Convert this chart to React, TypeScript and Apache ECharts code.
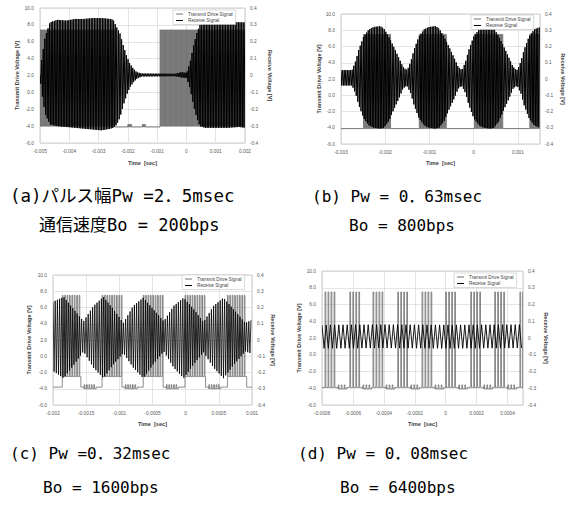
import React, { useEffect, useRef } from 'react';
import * as echarts from 'echarts';

// ---------- axis ranges [min, max, interval] ----------
const leftRange = [-6, 10, 2];
const rightRange = [-0.4, 0.4, 0.1];
const timeRangeA = [-0.005, 0.002, 0.001];
const timeRangeB = [-0.003, 0.0015, 0.001];
const timeRangeC = [-0.002, 0.001, 0.0005];
const timeRangeD = [-0.0008, 0.0005, 0.0002];

// ---------- texts ----------
const seriesNames = ['Transmit Drive Signal', 'Receive Signal'];
const leftAxisName = 'Transmit Drive Voltage [V]';
const rightAxisName = 'Receive Voltage [V]';
const timeAxisName = 'Time  [sec]';
const captionsLine1 = ['(a)パルス幅Pw =2．5msec', '(b) Pw = 0．63msec', '(c) Pw =0．32msec', '(d) Pw = 0．08msec'];
const captionsLine2 = ['通信速度Bo = 200bps', 'Bo = 800bps', 'Bo = 1600bps', 'Bo = 6400bps'];

// ---------- transmit drive signal: segments [tStart, tEnd, low V, high V] ----------
const txA = [
  [-0.005, -0.00244, -4.0, 7.4],
  [-0.00244, -0.002, -4.1, -4.1],
  [-0.002, -0.00188, -4.1, -3.8],
  [-0.00188, -0.0015, -4.1, -4.1],
  [-0.0015, -0.0014, -4.1, -3.8],
  [-0.0014, -0.0009, -4.1, -4.1],
  [-0.0009, 0.002, -4.0, 7.4],
];
const txB = [
  [-0.003, -0.00249, -4.1, -4.1],
  [-0.00249, -0.00187, -4.1, 7.5],
  [-0.00187, -0.00123, -4.1, -4.1],
  [-0.00123, -0.00061, -4.1, 7.5],
  [-0.00061, 0.00002, -4.1, -4.1],
  [0.00002, 0.00066, -4.1, 7.5],
  [0.00066, 0.00127, -4.1, -4.1],
  [0.00127, 0.0015, -4.1, 7.5],
];
const txC = [
  [-0.002, -0.00186, -3.8, -3.8],
  [-0.00186, -0.00158, -2.5, 7.5],
  [-0.00158, -0.00153, -3.8, -3.8],
  [-0.00153, -0.00135, -4.0, -3.5],
  [-0.00135, -0.00126, -3.8, -3.8],
  [-0.00126, -0.00096, -2.5, 7.5],
  [-0.00096, -0.00091, -3.8, -3.8],
  [-0.00091, -0.00073, -4.0, -3.5],
  [-0.00073, -0.00064, -3.8, -3.8],
  [-0.00064, -0.00034, -2.5, 7.5],
  [-0.00034, -0.00029, -3.8, -3.8],
  [-0.00029, -0.00011, -4.0, -3.5],
  [-0.00011, -0.00001, -3.8, -3.8],
  [-0.00001, 0.0003, -2.5, 7.5],
  [0.0003, 0.00035, -3.8, -3.8],
  [0.00035, 0.00053, -4.0, -3.5],
  [0.00053, 0.00063, -3.8, -3.8],
  [0.00063, 0.00092, -2.5, 7.5],
  [0.00092, 0.001, -3.8, -3.8],
];
const txD = [
  [-0.0008, -0.00078, -3.9, -3.9],
  [-0.00078, -0.00071, -3.9, 7.5],
  [-0.00071, -0.000695, -3.9, -3.9],
  [-0.000695, -0.00064, -4.1, -3.6],
  [-0.00064, -0.00062, -3.9, -3.9],
  [-0.00062, -0.00055, -3.9, 7.5],
  [-0.00055, -0.000535, -3.9, -3.9],
  [-0.000535, -0.00048, -4.1, -3.6],
  [-0.00048, -0.00047, -3.9, -3.9],
  [-0.00047, -0.0004, -3.9, 7.5],
  [-0.0004, -0.000385, -3.9, -3.9],
  [-0.000385, -0.00033, -4.1, -3.6],
  [-0.00033, -0.00031, -3.9, -3.9],
  [-0.00031, -0.00024, -3.9, 7.5],
  [-0.00024, -0.000225, -3.9, -3.9],
  [-0.000225, -0.00017, -4.1, -3.6],
  [-0.00017, -0.000153, -3.9, -3.9],
  [-0.000153, -0.000083, -3.9, 7.5],
  [-0.000083, -0.000068, -3.9, -3.9],
  [-0.000068, -0.000013, -4.1, -3.6],
  [-0.000013, 0.0, -3.9, -3.9],
  [0.0, 0.00007, -3.9, 7.5],
  [0.00007, 0.000085, -3.9, -3.9],
  [0.000085, 0.00014, -4.1, -3.6],
  [0.00014, 0.000162, -3.9, -3.9],
  [0.000162, 0.000232, -3.9, 7.5],
  [0.000232, 0.000247, -3.9, -3.9],
  [0.000247, 0.000302, -4.1, -3.6],
  [0.000302, 0.000317, -3.9, -3.9],
  [0.000317, 0.000387, -3.9, 7.5],
  [0.000387, 0.000402, -3.9, -3.9],
  [0.000402, 0.000457, -4.1, -3.6],
  [0.000457, 0.00048, -3.9, -3.9],
  [0.00048, 0.0005, -3.9, 7.5],
];

// ---------- receive signal envelope: [t, lower V, upper V] (right axis) ----------
const rxA = [
  [-0.005, -0.005, 0.005], [-0.00494, -0.1, 0.1], [-0.00483, -0.225, 0.225], [-0.00466, -0.29, 0.315],
  [-0.0044, -0.3, 0.33], [-0.0041, -0.305, 0.325], [-0.0038, -0.31, 0.335], [-0.0035, -0.315, 0.335],
  [-0.0032, -0.32, 0.34], [-0.0029, -0.325, 0.34], [-0.0026, -0.315, 0.335], [-0.0025, -0.31, 0.33],
  [-0.00238, -0.29, 0.285], [-0.00227, -0.25, 0.25], [-0.00215, -0.175, 0.175], [-0.00204, -0.115, 0.115],
  [-0.00193, -0.07, 0.07], [-0.00181, -0.04, 0.04], [-0.0017, -0.02, 0.02], [-0.00153, -0.006, 0.012],
  [-0.0004, -0.004, 0.01], [-0.00016, -0.012, 0.02], [0.00001, -0.015, 0.015], [0.00012, -0.075, 0.075],
  [0.00024, -0.175, 0.175], [0.00035, -0.25, 0.25], [0.00046, -0.3, 0.3], [0.00063, -0.31, 0.32],
  [0.001, -0.31, 0.315], [0.0014, -0.31, 0.32], [0.0018, -0.305, 0.315], [0.002, -0.31, 0.315],
];
const rxB = [
  [-0.003, -0.04, 0.055], [-0.00275, -0.04, 0.055], [-0.00267, -0.09, 0.11], [-0.0026, -0.16, 0.18],
  [-0.00249, -0.24, 0.26], [-0.00237, -0.285, 0.305], [-0.00226, -0.3, 0.32], [-0.00211, -0.305, 0.325],
  [-0.00203, -0.3, 0.31], [-0.00192, -0.26, 0.26], [-0.00181, -0.19, 0.2], [-0.00169, -0.12, 0.13],
  [-0.0016, -0.06, 0.075], [-0.00154, -0.045, 0.06], [-0.0015, -0.045, 0.055], [-0.00142, -0.09, 0.11],
  [-0.00135, -0.16, 0.18], [-0.00124, -0.24, 0.26], [-0.00112, -0.285, 0.305], [-0.00101, -0.3, 0.32],
  [-0.00086, -0.305, 0.325], [-0.00078, -0.3, 0.31], [-0.00067, -0.26, 0.26], [-0.00056, -0.19, 0.2],
  [-0.00044, -0.12, 0.13], [-0.00035, -0.06, 0.075], [-0.00029, -0.045, 0.06], [-0.00026, -0.045, 0.055],
  [-0.00018, -0.09, 0.11], [-0.00011, -0.16, 0.18], [0.0, -0.24, 0.26], [0.00012, -0.285, 0.305],
  [0.00023, -0.3, 0.32], [0.00038, -0.305, 0.325], [0.00046, -0.3, 0.31], [0.00057, -0.26, 0.26],
  [0.00068, -0.19, 0.2], [0.0008, -0.12, 0.13], [0.00089, -0.06, 0.075], [0.00095, -0.045, 0.06],
  [0.00099, -0.045, 0.055], [0.00107, -0.09, 0.11], [0.00114, -0.16, 0.18], [0.00125, -0.24, 0.26],
  [0.00137, -0.285, 0.305], [0.0015, -0.3, 0.32],
];
const rxC = [
  [-0.002, -0.19, 0.235], [-0.00184, -0.235, 0.265], [-0.00169, -0.155, 0.19], [-0.00154, -0.07, 0.115],
  [-0.00139, -0.17, 0.21], [-0.00124, -0.235, 0.265], [-0.00109, -0.15, 0.19], [-0.00094, -0.08, 0.105],
  [-0.00079, -0.17, 0.21], [-0.00064, -0.235, 0.26], [-0.00049, -0.15, 0.19], [-0.00033, -0.07, 0.115],
  [-0.00018, -0.17, 0.21], [-0.00003, -0.235, 0.26], [0.00012, -0.15, 0.19], [0.00027, -0.075, 0.11],
  [0.00042, -0.17, 0.21], [0.00057, -0.235, 0.26], [0.00073, -0.15, 0.185], [0.0009, -0.07, 0.105],
  [0.001, -0.085, 0.125],
];
const rxD = [
  [-0.0008, -0.062, 0.078], [-0.0004, -0.06, 0.08], [0.0, -0.062, 0.078], [0.0005, -0.06, 0.08],
];

// ---------- layout / style ----------
const GRAY = '#707070';
const LABEL_FONT = 'Liberation Sans';
const CAPTION_FONT = "'DejaVu Sans Mono', 'Noto Sans CJK JP', monospace";

const panels = [
  { x: timeRangeA, tx: txA, rx: rxA, grid: { left: 40, top: 8, width: 205, height: 135 },
    legend: { left: 173, top: 10 }, tStyle: [1.1, 0.5, 0.9], rStyle: [0.8, 1], showMax: true,
    gaps: [20, 22, 16.5] },
  { x: timeRangeB, tx: txB, rx: rxB, grid: { left: 341, top: 14, width: 199, height: 130 },
    legend: { left: 471, top: 15 }, tStyle: [1.2, 0.5, 0.9], rStyle: [0.8, 1], showMax: false,
    gaps: [19, 20, 16] },
  { x: timeRangeC, tx: txC, rx: rxC, grid: { left: 53, top: 275, width: 199, height: 130 },
    legend: { left: 182, top: 275 }, tStyle: [2.4, 0.3, 0.8], rStyle: [1.1, 0.8], showMax: true,
    gaps: [21, 18, 16] },
  { x: timeRangeD, tx: txD, rx: rxD, grid: { left: 322, top: 271, width: 201, height: 134 },
    legend: { left: 454, top: 273 }, tStyle: [3.0, 0.25, 0.8], rStyle: [2.1, 0.9], showMax: false,
    gaps: [20, 20, 16] },
];
// caption anchors [x, y, fontSize]
const captionPos = [
  [[10, 196, 17.5], [39, 225, 17]],
  [[312, 196, 16], [349, 225, 16]],
  [[10, 453, 16], [43, 487, 16]],
  [[298, 453, 16], [340, 487, 16]],
];

function txRenderer(segs: number[][], period: number, duty: number, lw: number) {
  return (params: any, api: any) => {
    if (params.dataIndex !== 0) return null;
    const pts: number[][] = [];
    segs.forEach(([t0, t1, lo, hi]) => {
      const a = api.coord([t0, lo]);
      const b = api.coord([t1, lo]);
      const yh = api.coord([t0, hi])[1];
      if (hi === lo) {
        pts.push([a[0], a[1]], [b[0], b[1]]);
        return;
      }
      for (let x = a[0]; x < b[0] - 0.05; x += period) {
        const xe = Math.min(x + period * duty, b[0]);
        pts.push([x, a[1]], [x, yh], [xe, yh], [xe, a[1]]);
      }
      pts.push([b[0], a[1]]);
    });
    return { type: 'polyline', shape: { points: pts }, style: { stroke: GRAY, lineWidth: lw, fill: null } };
  };
}

function rxRenderer(env: number[][], step: number, lw: number) {
  return (params: any, api: any) => {
    if (params.dataIndex !== 0) return null;
    const px = env.map(([t, lo, hi]) => {
      const l = api.coord([t, lo]);
      const h = api.coord([t, hi]);
      return [l[0], l[1], h[1]];
    });
    const pts: number[][] = [];
    let k = 0;
    let up = true;
    const xEnd = px[px.length - 1][0];
    for (let x = px[0][0]; x <= xEnd + 0.001; x += step) {
      while (k < px.length - 2 && x > px[k + 1][0]) k++;
      const p = px[k];
      const q = px[k + 1];
      const f = q[0] > p[0] ? (x - p[0]) / (q[0] - p[0]) : 0;
      const y = up ? p[2] + f * (q[2] - p[2]) : p[1] + f * (q[1] - p[1]);
      pts.push([x, y]);
      up = !up;
    }
    return { type: 'polyline', shape: { points: pts }, style: { stroke: '#000', lineWidth: lw, fill: null } };
  };
}

function buildOption() {
  const grid: any[] = [];
  const xAxis: any[] = [];
  const yAxis: any[] = [];
  const series: any[] = [];
  const legend: any[] = [];
  const labelStyle = { fontSize: 4.8, color: '#595959', fontFamily: LABEL_FONT };
  const nameStyle = { fontSize: 5.6, color: '#404040', fontWeight: 'bold', fontFamily: LABEL_FONT };
  panels.forEach((p, i) => {
    grid.push({ ...p.grid, show: true, borderColor: '#bfbfbf', borderWidth: 0.8, backgroundColor: '#fff' });
    xAxis.push({
      gridIndex: i, type: 'value', min: p.x[0], max: p.x[1], interval: p.x[2],
      name: timeAxisName, nameLocation: 'middle', nameGap: p.gaps[2], nameTextStyle: nameStyle,
      axisLine: { show: false }, axisTick: { show: false },
      axisLabel: { ...labelStyle, margin: 6, showMaxLabel: p.showMax, formatter: (v: number) => String(Math.round(v * 1e6) / 1e6) },
      splitLine: { show: true, lineStyle: { color: '#d9d9d9', width: 0.7 } },
    });
    yAxis.push({
      gridIndex: i, type: 'value', position: 'left', min: leftRange[0], max: leftRange[1], interval: leftRange[2],
      name: leftAxisName, nameLocation: 'middle', nameGap: p.gaps[0], nameTextStyle: nameStyle,
      axisLine: { show: false }, axisTick: { show: false },
      axisLabel: { ...labelStyle, margin: 6, formatter: (v: number) => v.toFixed(1) },
      splitLine: { show: true, lineStyle: { color: '#d9d9d9', width: 0.7 } },
    });
    yAxis.push({
      gridIndex: i, type: 'value', position: 'right', min: rightRange[0], max: rightRange[1], interval: rightRange[2],
      name: rightAxisName, nameLocation: 'middle', nameGap: p.gaps[1], nameRotate: -90, nameTextStyle: nameStyle,
      axisLine: { show: false }, axisTick: { show: false },
      axisLabel: { ...labelStyle, margin: 5, formatter: (v: number) => String(Math.round(v * 10) / 10) },
      splitLine: { show: false },
    });
    series.push({
      type: 'custom', name: seriesNames[0], xAxisIndex: i, yAxisIndex: 2 * i, data: p.tx,
      encode: { x: [0, 1], y: [2, 3] }, clip: true, silent: true, z: 2, itemStyle: { color: GRAY },
      renderItem: txRenderer(p.tx, p.tStyle[0], p.tStyle[1], p.tStyle[2]),
    });
    series.push({
      type: 'custom', name: seriesNames[1], xAxisIndex: i, yAxisIndex: 2 * i + 1, data: p.rx,
      encode: { x: 0, y: [1, 2] }, clip: true, silent: true, z: 3, itemStyle: { color: '#000' },
      renderItem: rxRenderer(p.rx, p.rStyle[0], p.rStyle[1]),
    });
    legend.push({
      left: p.legend.left, top: p.legend.top, orient: 'vertical', icon: 'rect', itemWidth: 7, itemHeight: 1,
      itemGap: 1.5, padding: [1.5, 3, 1.5, 3], borderColor: '#bfbfbf', borderWidth: 0.6, backgroundColor: '#fff',
      selectedMode: false, textStyle: { fontSize: 4.7, color: '#404040', fontFamily: LABEL_FONT },
      data: [
        { name: seriesNames[0], itemStyle: { color: GRAY } },
        { name: seriesNames[1], itemStyle: { color: '#000' } },
      ],
    });
  });
  const graphic: any[] = [];
  captionPos.forEach((pos, i) => {
    [captionsLine1[i], captionsLine2[i]].forEach((text, j) => {
      graphic.push({
        type: 'text', x: pos[j][0], y: pos[j][1], silent: true,
        style: { text, fontSize: pos[j][2], fontFamily: CAPTION_FONT, fill: '#000', verticalAlign: 'middle', align: 'left' },
      });
    });
  });
  return { animation: false, backgroundColor: '#fff', grid, xAxis, yAxis, series, legend, graphic };
}

export default function App() {
  const ref = useRef<HTMLDivElement>(null);
  useEffect(() => {
    if (!ref.current) return;
    const chart = echarts.init(ref.current, undefined, { renderer: 'svg' });
    chart.setOption(buildOption() as any);
    return () => chart.dispose();
  }, []);
  return <div ref={ref} style={{ position: 'absolute', left: 0, top: 0, width: 568, height: 508, background: '#fff' }} />;
}
